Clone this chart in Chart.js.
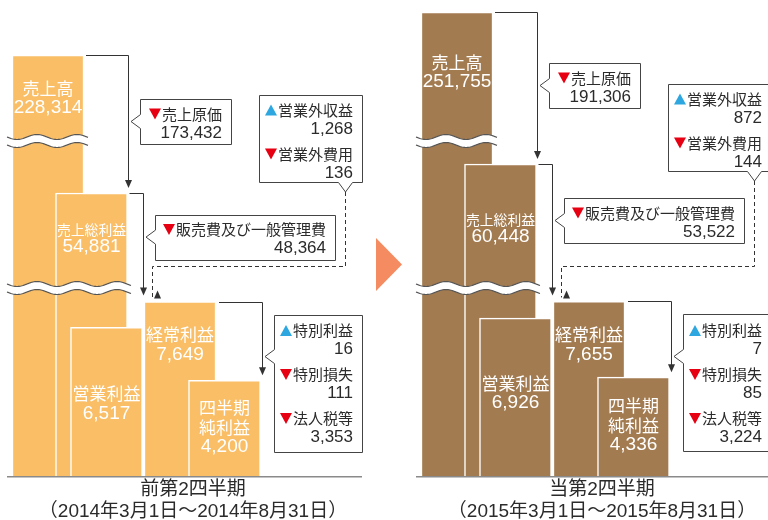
<!DOCTYPE html>
<html lang="ja">
<head>
<meta charset="utf-8">
<title>四半期 損益の推移</title>
<script src="https://cdn.jsdelivr.net/npm/chart.js@4.4.1/dist/chart.umd.min.js"></script>
<style>
  html, body { margin: 0; padding: 0; background: #fff; }
  #page { position: relative; width: 768px; height: 520px; overflow: hidden; }
  #prevChart { position: absolute; left: 0; top: 0; }
  #currChart { position: absolute; left: 409px; top: 0; }
</style>
</head>
<body>
<div id="page">
  <canvas id="prevChart" width="409" height="520"></canvas>
  <canvas id="currChart" width="359" height="520"></canvas>
</div>
<script>
// ---- data (百万円) ----
var stepNames = ['売上高', '売上総利益', '営業利益', '経常利益', '四半期純利益'];
var prevSteps = [228314, 54881, 6517, 7649, 4200];
var currSteps = [251755, 60448, 6926, 7655, 4336];

var costNames = ['売上原価', '販売費及び一般管理費'];
var prevCosts = [173432, 48364];
var currCosts = [191306, 53522];

var nonOpNames = ['営業外収益', '営業外費用'];
var nonOpSigns = [1, -1];
var prevNonOp = [1268, 136];
var currNonOp = [872, 144];

var extraNames = ['特別利益', '特別損失', '法人税等'];
var extraSigns = [1, -1, -1];
var prevExtra = [16, 111, 3353];
var currExtra = [7, 85, 3224];

var periodNames = ['前第2四半期', '当第2四半期'];
var periodRanges = ['（2014年3月1日～2014年8月31日）', '（2015年3月1日～2015年8月31日）'];

// ---- layout ----
var barCenters = [48, 91.5, 106.5, 180, 224.5];
var barWidth = 72;
var plotHeight = 476;
// value -> px above the base line, with two breaks in the axis
var brokenKnots = [[0, 0], [8245, 188], [36650, 188], [64860, 335], [181420, 335], [260000, 479]];

var JP = '"Noto Sans CJK JP", sans-serif';
var NUM = '"Liberation Sans", "Noto Sans CJK JP", sans-serif';
var inkColor = '#2b2b2b';
var lineColor = '#333';

function brokenPos(v) {
  for (var i = 1; i < brokenKnots.length; i++) {
    var a = brokenKnots[i - 1], b = brokenKnots[i];
    if (v <= b[0] || i === brokenKnots.length - 1) {
      return a[1] + (v - a[0]) / (b[0] - a[0]) * (b[1] - a[1]);
    }
  }
  return 0;
}

class BrokenScale extends Chart.LinearScale {
  getPixelForValue(value) {
    return this.getPixelForDecimal(brokenPos(value) / plotHeight);
  }
  getValueForPixel(pixel) {
    var pos = this.getDecimalForPixel(pixel) * plotHeight;
    for (var i = 1; i < brokenKnots.length; i++) {
      var a = brokenKnots[i - 1], b = brokenKnots[i];
      if (pos <= b[1] && b[1] > a[1]) {
        return a[0] + (pos - a[1]) / (b[1] - a[1]) * (b[0] - a[0]);
      }
    }
    return brokenKnots[brokenKnots.length - 1][0];
  }
}
BrokenScale.id = 'broken';
BrokenScale.defaults = Chart.LinearScale.defaults;
Chart.register(BrokenScale);

function fmt(n) { return n.toLocaleString('en-US'); }
function px(v) { return Math.round(v) + 0.5; }

function drawBreak(ctx, x0, x1, y) {
  var amp = 2.5, half = 4, period = 40;
  function wy(x) { return amp * Math.sin((x - x0) / period * Math.PI * 2); }
  ctx.beginPath();
  for (var x = x0; x <= x1; x++) ctx.lineTo(x, y - half + wy(x));
  for (x = x1; x >= x0; x--) ctx.lineTo(x, y + half + wy(x));
  ctx.closePath();
  ctx.fillStyle = '#fff';
  ctx.fill();
  ctx.strokeStyle = '#555';
  ctx.lineWidth = 1.2;
  [-half, half].forEach(function (off) {
    ctx.beginPath();
    for (var x = x0; x <= x1; x++) ctx.lineTo(x, y + off + wy(x));
    ctx.stroke();
  });
}

function arrowHead(ctx, x, tipY, up) {
  var d = up ? 8 : -8;
  ctx.beginPath();
  ctx.moveTo(x - 3.5, tipY + d);
  ctx.lineTo(x + 3.5, tipY + d);
  ctx.lineTo(x, tipY);
  ctx.closePath();
  ctx.fill();
}

// L-shaped link: along the top of one bar, then down onto the next
function link(ctx, x0, y0, x1, tipY) {
  var y = px(y0), x = px(x1);
  ctx.beginPath();
  ctx.moveTo(x0, y);
  ctx.lineTo(x, y);
  ctx.lineTo(x, tipY - 7);
  ctx.stroke();
  arrowHead(ctx, x, tipY, false);
}

function boxLeftNotch(ctx, x, y, w, h, py, tipX) {
  x = px(x); y = px(y);
  ctx.beginPath();
  ctx.moveTo(x, y);
  ctx.lineTo(x + w, y);
  ctx.lineTo(x + w, y + h);
  ctx.lineTo(x, y + h);
  ctx.lineTo(x, py + 7);
  ctx.lineTo(tipX, py);
  ctx.lineTo(x, py - 7);
  ctx.closePath();
  ctx.fillStyle = '#fff';
  ctx.fill();
  ctx.strokeStyle = '#444';
  ctx.lineWidth = 1;
  ctx.stroke();
}

function boxBottomNotch(ctx, x, y, w, h, pX, tipY) {
  x = px(x); y = px(y);
  ctx.beginPath();
  ctx.moveTo(x, y);
  ctx.lineTo(x + w, y);
  ctx.lineTo(x + w, y + h);
  ctx.lineTo(pX + 7, y + h);
  ctx.lineTo(pX, tipY);
  ctx.lineTo(pX - 7, y + h);
  ctx.lineTo(x, y + h);
  ctx.closePath();
  ctx.fillStyle = '#fff';
  ctx.fill();
  ctx.strokeStyle = '#444';
  ctx.lineWidth = 1;
  ctx.stroke();
}

function marker(ctx, cx, cy, sign) {
  ctx.fillStyle = sign > 0 ? '#2ea7e0' : '#e60012';
  ctx.beginPath();
  if (sign > 0) {
    ctx.moveTo(cx - 6, cy + 5.5); ctx.lineTo(cx + 6, cy + 5.5); ctx.lineTo(cx, cy - 5.5);
  } else {
    ctx.moveTo(cx - 6, cy - 5.5); ctx.lineTo(cx + 6, cy - 5.5); ctx.lineTo(cx, cy + 5.5);
  }
  ctx.closePath();
  ctx.fill();
}

function calloutText(ctx, right, top, names, values, signs) {
  ctx.textAlign = 'right';
  ctx.textBaseline = 'middle';
  for (var k = 0; k < names.length; k++) {
    var ly = top + 15 + k * 44, ny = top + 34 + k * 44;
    ctx.font = '15px ' + JP;
    ctx.fillStyle = inkColor;
    ctx.fillText(names[k], right, ly);
    var lw = ctx.measureText(names[k]).width;
    marker(ctx, right - lw - 7, ly, signs[k]);
    ctx.font = '17px ' + NUM;
    ctx.fillStyle = inkColor;
    ctx.fillText(fmt(values[k]), right, ny);
  }
}

function drawFlow(chart, p) {
  var ctx = chart.ctx, area = chart.chartArea, yScale = chart.scales.y;
  var bars = chart.getDatasetMeta(0).data.map(function (el) {
    return { l: el.x - el.width / 2, r: el.x + el.width / 2, t: el.y, x: el.x };
  });
  ctx.save();

  // axis breaks
  [[brokenKnots[1][0], brokenKnots[2][0]], [brokenKnots[3][0], brokenKnots[4][0]]].forEach(function (gap) {
    var crossing = bars.filter(function (b, i) { return p.steps[i] > gap[1]; });
    if (!crossing.length) return;
    var x0 = Math.min.apply(null, crossing.map(function (b) { return b.l; })) - 5;
    var x1 = Math.max.apply(null, crossing.map(function (b) { return b.r; })) + 4;
    drawBreak(ctx, x0, x1, yScale.getPixelForValue(gap[0]));
  });

  // labels inside bars
  ctx.textAlign = 'center';
  ctx.textBaseline = 'middle';
  ctx.fillStyle = '#fff';
  bars.forEach(function (b, i) {
    var name = stepNames[i];
    var lines = name.length > 5 ? [name.slice(0, 3), name.slice(3)] : [name];
    var jpSize = Math.min(17, (barWidth - 3) / lines[0].length);
    var y = b.t + p.labelOffsets[i];
    lines.forEach(function (s) {
      ctx.font = jpSize + 'px ' + JP;
      ctx.fillText(s, b.x, y);
      y += jpSize + 3;
    });
    ctx.font = '19px ' + NUM;
    ctx.fillText(fmt(p.steps[i]), b.x, y);
  });

  // base line
  ctx.strokeStyle = '#8a8a8a';
  ctx.lineWidth = 1.5;
  ctx.beginPath();
  ctx.moveTo(7, area.bottom + 0.75);
  ctx.lineTo(362, area.bottom + 0.75);
  ctx.stroke();

  // links between steps
  ctx.strokeStyle = lineColor;
  ctx.fillStyle = lineColor;
  ctx.lineWidth = 1;
  var ax = bars[1].r + 0.5, aTip = bars[1].t - 5;
  var bx = bars[3].l - 1, bTip = bars[3].t - 6;
  var dx = bars[4].r + 1.5, dTip = bars[4].t - 5;
  link(ctx, bars[0].r + 2, bars[0].t, ax, aTip);
  link(ctx, bars[1].r + 2, bars[1].t, bx, bTip);
  link(ctx, bars[3].r + 3, bars[3].t, dx, dTip);

  // dashed link from non-operating items
  var nTop = p.nonOpTop, nLeft = bx + 116, nW = 103, nH = 87;
  var nPx = px(nLeft + 86), nTip = nTop + nH + 10;
  ctx.setLineDash([4, 3]);
  ctx.beginPath();
  ctx.moveTo(nPx, nTip);
  ctx.lineTo(nPx, px(266));
  ctx.lineTo(px(bx + 9), px(266));
  ctx.lineTo(px(bx + 9), bars[3].t - 4);
  ctx.stroke();
  ctx.setLineDash([]);
  arrowHead(ctx, bx + 14.5, bars[3].t - 11, true);

  // callout boxes
  var c0 = (bars[0].t + aTip) / 2;
  boxLeftNotch(ctx, ax + 12, c0 - 22.5, 91, 45, c0, ax + 3);
  calloutText(ctx, ax + 12 + 91 - 9, c0 - 22.5, [costNames[0]], [p.costs[0]], [-1]);

  var c1 = bars[1].t + 0.43 * (bTip - bars[1].t);
  boxLeftNotch(ctx, bx + 12, c1 - 22.5, 180, 45, c1, bx + 3);
  calloutText(ctx, bx + 12 + 180 - 9, c1 - 22.5, [costNames[1]], [p.costs[1]], [-1]);

  boxBottomNotch(ctx, nLeft, nTop, nW, nH, nPx, nTip);
  calloutText(ctx, nLeft + nW - 9, nTop, nonOpNames, p.nonOp, nonOpSigns);

  var eTop = bars[3].t + 13;
  boxLeftNotch(ctx, dx + 12, eTop, 88, 137, eTop + 42, dx + 3);
  calloutText(ctx, dx + 12 + 88 - 9, eTop + 1, extraNames, p.extra, extraSigns);

  // period caption
  ctx.fillStyle = inkColor;
  ctx.textAlign = 'center';
  ctx.textBaseline = 'middle';
  ctx.font = '19px ' + NUM;
  ctx.fillText(p.period, 193, 490);
  ctx.fillText(p.range, 193, 512);

  // arrow between the two periods
  if (p.arrow) {
    ctx.fillStyle = '#f58b61';
    ctx.beginPath();
    ctx.moveTo(376, 238);
    ctx.lineTo(402, 264.5);
    ctx.lineTo(376, 291);
    ctx.closePath();
    ctx.fill();
  }
  ctx.restore();
}

function makePanel(canvasId, p) {
  var canvas = document.getElementById(canvasId);
  return new Chart(canvas.getContext('2d'), {
    type: 'bar',
    data: {
      datasets: [{
        label: p.period,
        data: p.steps.map(function (v, i) { return { x: barCenters[i], y: v }; }),
        backgroundColor: p.color,
        borderColor: '#fff',
        borderWidth: 1.5,
        borderSkipped: 'start',
        barThickness: barWidth
      }]
    },
    options: {
      responsive: false,
      animation: false,
      events: [],
      layout: { padding: { top: 0, right: 0, bottom: 44, left: 0 } },
      scales: {
        x: { type: 'linear', min: 0, max: canvas.width, offset: false, display: false },
        y: { type: 'broken', min: 0, max: brokenKnots[brokenKnots.length - 1][0], display: false }
      },
      plugins: { legend: { display: false }, tooltip: { enabled: false } }
    },
    plugins: [{ id: 'flow', afterDatasetsDraw: function (chart) { drawFlow(chart, p); } }]
  });
}

makePanel('prevChart', {
  steps: prevSteps, costs: prevCosts, nonOp: prevNonOp, extra: prevExtra,
  period: periodNames[0], range: periodRanges[0], color: '#f9be66',
  labelOffsets: [33, 37, 66, 33, 27], nonOpTop: 95, arrow: true
});
makePanel('currChart', {
  steps: currSteps, costs: currCosts, nonOp: currNonOp, extra: currExtra,
  period: periodNames[1], range: periodRanges[1], color: '#a37b50',
  labelOffsets: [50, 56, 65, 33, 28], nonOpTop: 84, arrow: false
});
</script>
</body>
</html>
